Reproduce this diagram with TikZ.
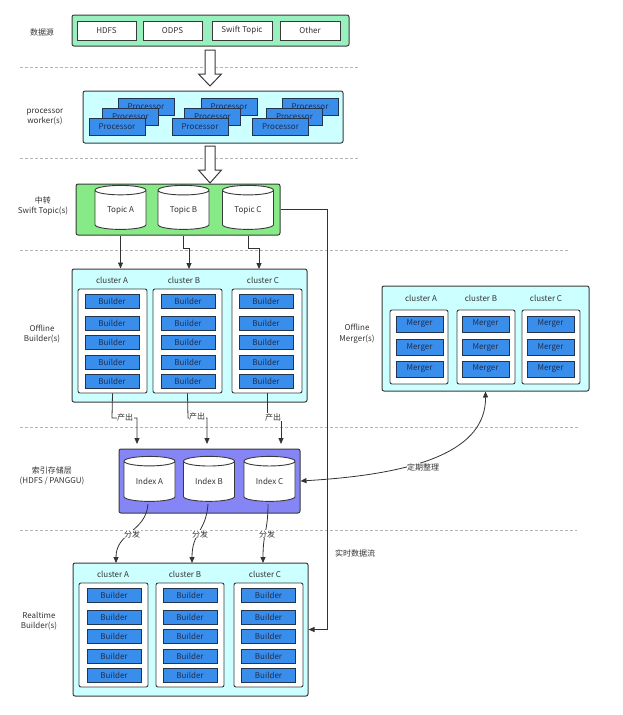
\documentclass[tikz,border=0pt]{standalone}
\usepackage{fontspec}
\setmainfont{Noto Sans CJK SC}
\usetikzlibrary{arrows.meta,shapes.geometric,calc}
\definecolor{mint}{HTML}{98F0BE}
\definecolor{tgreen}{HTML}{86EB86}
\definecolor{cyanc}{HTML}{CCFFFF}
\definecolor{bluec}{HTML}{3A8EEB}
\definecolor{bluedge}{HTML}{23344F}
\definecolor{bluetext}{HTML}{1E2D50}
\definecolor{purp}{HTML}{8585F5}
\definecolor{edge}{HTML}{3A3A3A}
\definecolor{linec}{HTML}{333333}
\definecolor{sepc}{HTML}{B4B4B4}
\definecolor{labtext}{HTML}{333333}
\begin{document}
\begin{tikzpicture}[x=1pt,y=-1pt,font=\fontsize{8}{10.5}\selectfont,
  grpbox/.style={draw=edge,line width=1pt,rounded corners=2pt,inner sep=0pt},
  whitebox/.style={draw=edge,fill=white,line width=0.9pt,inner sep=0pt,minimum height=19pt,text=labtext},
  bluebox/.style={draw=bluedge,fill=bluec,text=bluetext,line width=0.8pt,inner sep=0pt,minimum height=14pt},
  clusterbox/.style={draw=edge,fill=white,line width=0.9pt,rounded corners=2pt,inner sep=0pt},
  cyl/.style={cylinder,shape border rotate=90,draw=edge,fill=white,line width=0.9pt,minimum width=51pt,minimum height=44pt,aspect=0.35,inner sep=0pt,text=labtext},
  lab/.style={align=center,text=labtext},
  conn/.style={draw=linec,line width=0.8pt,-{Triangle[length=6pt,width=5pt]}},
  sepline/.style={draw=sepc,dash pattern=on 3pt off 2pt,line width=0.6pt},
  hollow/.style={draw=edge,fill=white,line width=1pt},
  tag/.style={fill=white,inner sep=0.5pt,text=labtext}]
\useasboundingbox (0,0) rectangle (622,715);

% separators
\draw[sepline] (20,67) -- (358,67);
\draw[sepline] (20,158) -- (358,158);
\draw[sepline] (20,250) -- (568,250);
\draw[sepline] (20,427) -- (580,427);
\draw[sepline] (20,530) -- (577,530);

% left labels
\node[lab] (l1) at (42,32) {数据源};
\node[lab] (l2) at (45,117) {processor\\worker(s)};
\node[lab] (l3) at (43,206) {中转\\Swift Topic(s)};
\node[lab] (l4) at (42,334) {Offline\\Builder(s)};
\node[lab] (l5) at (52,476) {索引存储层\\(HDFS / PANGGU)};
\node[lab] (l6) at (39,621) {Realtime\\Builder(s)};
\node[lab] (l7) at (357,334) {Offline\\Merger(s)};

% data sources
\node[grpbox,fill=mint,minimum width=277pt,minimum height=31pt] (src) at (210.5,30.5) {};
\node[whitebox,minimum width=59pt] (hdfs) at (106.5,30.5) {HDFS};
\node[whitebox,minimum width=59pt] (odps) at (172.5,30.5) {ODPS};
\node[whitebox,minimum width=60pt] (swift) at (242,30.5) {Swift Topic};
\node[whitebox,minimum width=60pt] (other) at (310,30.5) {Other};

% hollow arrow 1
\draw[hollow] (205,50) -- (215,50) -- (215,74) -- (221.5,74) -- (210,86) -- (198.5,74) -- (205,74) -- cycle;

% processors
\node[grpbox,fill=cyanc,minimum width=260pt,minimum height=52pt] (proc) at (213,117) {};
\foreach \g/\bx/\mx/\fx in {1/146/130.5/117,2/229/212.5/200,3/310/294.5/280.5}{
  \node[bluebox,minimum width=56pt,minimum height=17pt] (pb\g) at (\bx,106.5) {Processor};
  \node[bluebox,minimum width=56pt,minimum height=17pt] (pm\g) at (\mx,116.5) {Processor};
  \node[bluebox,minimum width=56pt,minimum height=17pt] (pf\g) at (\fx,126.5) {Processor};
}

% hollow arrow 2
\draw[hollow] (205,146) -- (215,146) -- (215,170) -- (221.5,170) -- (210,183) -- (198.5,170) -- (205,170) -- cycle;

% topics
\node[grpbox,fill=tgreen,minimum width=204pt,minimum height=51pt] (topic) at (178,209.5) {};
\node[cyl] (tA) at (120.5,210) {Topic A};
\node[cyl] (tB) at (183.5,210) {Topic B};
\node[cyl] (tC) at (248,210) {Topic C};

% offline builders
\node[grpbox,fill=cyanc,minimum width=235pt,minimum height=133pt] (off) at (189.5,335.5) {};
\node[lab] (ocA) at (112,280) {cluster A};
\node[lab] (ocB) at (184,280) {cluster B};
\node[lab] (ocC) at (263,280) {cluster C};
\node[clusterbox,minimum width=69pt,minimum height=104pt] (oA) at (112.5,341) {};
\node[clusterbox,minimum width=69pt,minimum height=104pt] (oB) at (187.5,341) {};
\node[clusterbox,minimum width=70pt,minimum height=104pt] (oC) at (267,341) {};
\foreach \c/\x in {A/112,B/188,C/266}{
  \foreach \r/\y in {1/301,2/323,3/342.5,4/362,5/381}{
    \node[bluebox,minimum width=54pt] (ob\c\r) at (\x,\y) {Builder};
  }
}

% topic arrows
\coordinate (tinB) at (189,269);
\coordinate (tinC) at (259,269);
\draw[conn] (tA.south |- topic.south) -- (tA.south |- off.north);
\draw[conn] (tB.south |- topic.south) -- ++(0,13) -| (tinB);
\draw[conn] (tC.south |- topic.south) -- ++(0,13) -| (tinC);

% mergers
\node[grpbox,fill=cyanc,minimum width=207pt,minimum height=105pt] (mer) at (485.5,338.5) {};
\node[lab] (mcA) at (421,298) {cluster A};
\node[lab] (mcB) at (481,298) {cluster B};
\node[lab] (mcC) at (546,298) {cluster C};
\node[clusterbox,minimum width=58pt,minimum height=74pt] (mA) at (419,347) {};
\node[clusterbox,minimum width=58pt,minimum height=74pt] (mB) at (486,347) {};
\node[clusterbox,minimum width=58pt,minimum height=74pt] (mC) at (551,347) {};
\foreach \c/\x in {A/419.5,B/485.5,C/550.5}{
  \foreach \r/\y in {1/324,2/347.5,3/369}{
    \node[bluebox,minimum width=47pt,minimum height=16pt] (mb\c\r) at (\x,\y) {Merger};
  }
}

% index layer
\node[grpbox,fill=purp,minimum width=181pt,minimum height=64pt] (idx) at (209.5,481) {};
\node[cyl,minimum height=45pt] (iA) at (149.5,481.5) {Index A};
\node[cyl,minimum height=45pt] (iB) at (209,481.5) {Index B};
\node[cyl,minimum height=45pt] (iC) at (269.5,481.5) {Index C};

% output arrows
\coordinate (oinA) at (137,444);
\coordinate (oinB) at (207,444);
\coordinate (oinC) at (281,444);
\draw[conn] (oA.south) -- (112,418) -| (oinA);
\draw[conn] (oB.south) -- (188,418) -| (oinB);
\draw[conn] (oC.south) -- (267,418) -| (oinC);
\node[tag] (pA) at (125,417) {产出};
\node[tag] (pB) at (197,416) {产出};
\node[tag] (pC) at (273,417) {产出};

% realtime builders
\node[grpbox,fill=cyanc,minimum width=235pt,minimum height=133pt] (rt) at (190.5,629.5) {};
\node[lab] (rcA) at (113,574) {cluster A};
\node[lab] (rcB) at (185,574) {cluster B};
\node[lab] (rcC) at (265,574) {cluster C};
\node[clusterbox,minimum width=69pt,minimum height=104pt] (rA) at (113.5,635) {};
\node[clusterbox,minimum width=68pt,minimum height=104pt] (rB) at (190,635) {};
\node[clusterbox,minimum width=69pt,minimum height=104pt] (rC) at (268.5,635) {};
\foreach \c/\x in {A/114,B/190,C/268.5}{
  \foreach \r/\y in {1/595.5,2/617,3/636.5,4/656,5/675.5}{
    \node[bluebox,minimum width=54pt] (rb\c\r) at (\x,\y) {Builder};
  }
}

% distribution arrows
\coordinate (dA) at (116,563);
\coordinate (dB) at (192,563);
\coordinate (dC) at (263,563);
\draw[conn] (148,504) .. controls (146,532) and (116,532) .. (dA);
\draw[conn] (208,504) .. controls (206,532) and (192,532) .. (dB);
\draw[conn] (268,504) .. controls (268,532) and (263,532) .. (dC);
\node[tag] (fA) at (132,534) {分发};
\node[tag] (fB) at (200,534) {分发};
\node[tag] (fC) at (267,534) {分发};

% realtime flow
\coordinate (rl) at (327,0);
\draw[conn] (topic.east) -- (topic.east -| rl) -- (rt.east -| rl) -- (rt.east);
\node[lab] (rtl) at (355,553) {实时数据流};

% periodic merge
\draw[draw=linec,line width=0.8pt,{Triangle[length=6pt,width=5pt]}-{Triangle[length=6pt,width=5pt]}] (idx.east) .. controls (420,474) and (486,450) .. (mer.south);
\node[tag] (dq) at (423,467) {定期整理};
\end{tikzpicture}
\end{document}
